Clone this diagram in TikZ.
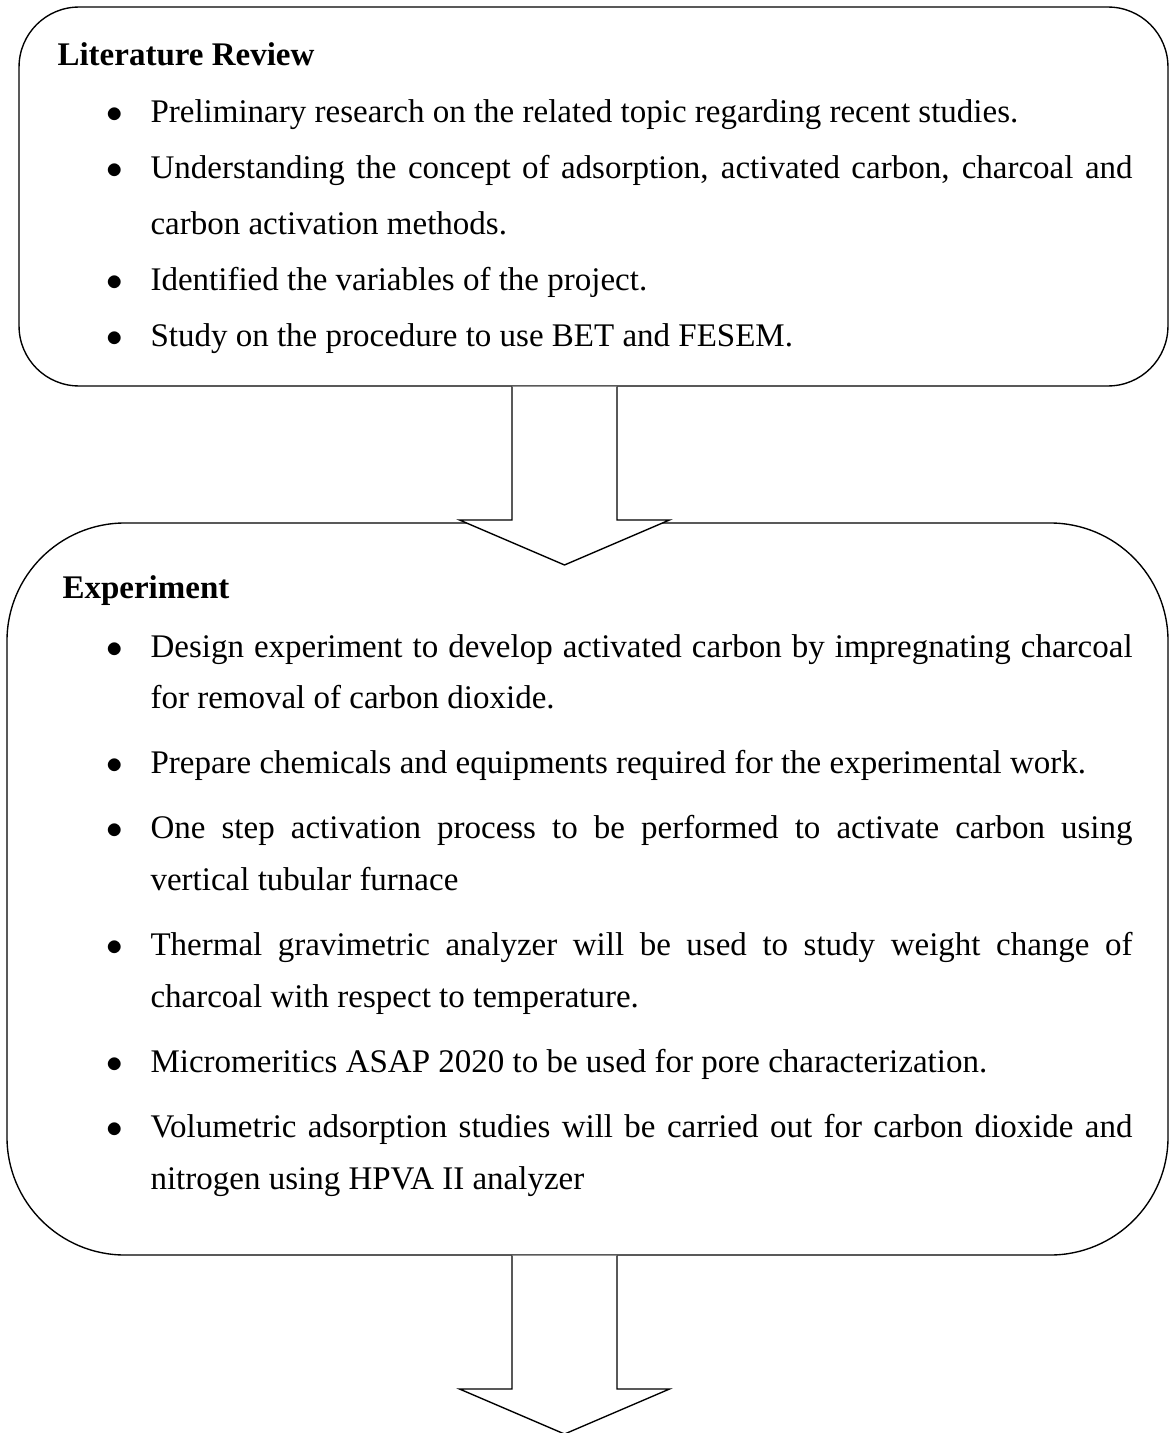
\documentclass[tikz,border=0pt]{standalone}
\usepackage{fontspec}
\setmainfont{Liberation Serif}
\usetikzlibrary{calc}
\newcommand{\itembul}{\leavevmode\llap{$\bullet$\hspace{10.1pt}}}
\tikzset{
	box/.style={draw, rectangle, line width=0.5pt, inner sep=0pt, outer sep=0pt},
	head/.style={anchor=base west, inner sep=0pt, font=\fontsize{12}{14}\selectfont\bfseries},
	body/.style={anchor=base west, inner sep=0pt, text width=357.1pt, align=justify},
	blockarrow/.style={draw, fill=white, line width=0.5pt}
}

\begin{document}
\begin{tikzpicture}[x=0.36364pt,y=-0.36364pt]
	\useasboundingbox (0,0) rectangle (1172,1433);
	\coordinate (spine) at (564.5,0);
	% the two boxes
	\node[box, rounded corners=21.8pt, minimum width=417.8pt, minimum height=137.8pt] (lit) at (593.5,196.5) {};
	\node[box, rounded corners=42.9pt, minimum width=422.2pt, minimum height=266.2pt] (exp) at (587.5,889) {};
	% texts
	\node[head] (lithead) at (57,65) {Literature Review};
	\node[body, font=\fontsize{12}{20.4}\selectfont] (litbody) at (150,122) {%
		\itembul Preliminary research on the related topic regarding recent studies.\par
		\itembul Understanding the concept of adsorption, activated carbon, charcoal and\linebreak carbon activation methods.\par
		\itembul Identified the variables of the project.\par
		\itembul Study on the procedure to use BET and FESEM.};
	\node[head] (exphead) at (62,598) {Experiment};
	\node[body, font=\fontsize{12}{18.9}\selectfont\setlength{\parskip}{4.7pt}] (expbody) at (150,657) {%
		\itembul Design experiment to develop activated carbon by impregnating charcoal\linebreak for removal of carbon dioxide.\par
		\itembul Prepare chemicals and equipments required for the experimental work.\par
		\itembul One step activation process to be performed to activate carbon using\linebreak vertical tubular furnace\par
		\itembul Thermal gravimetric analyzer will be used to study weight change of\linebreak charcoal with respect to temperature.\par
		\itembul Micromeritics ASAP 2020 to be used for pore characterization.\par
		\itembul Volumetric adsorption studies will be carried out for carbon dioxide and\linebreak nitrogen using HPVA II analyzer};
	% block arrows
	\draw[blockarrow] ($(lit.south -| spine)+(-52.5,0.7)$) -- ++(0,133.3) -- ++(-52.5,0) -- ++(105,45) -- ++(105,-45) -- ++(-52.5,0) -- ++(0,-133.3);
	\draw[blockarrow] ($(exp.south -| spine)+(-52.5,0.7)$) -- ++(0,133.3) -- ++(-52.5,0) -- ++(105,45) -- ++(105,-45) -- ++(-52.5,0) -- ++(0,-133.3);
\end{tikzpicture}
\end{document}
